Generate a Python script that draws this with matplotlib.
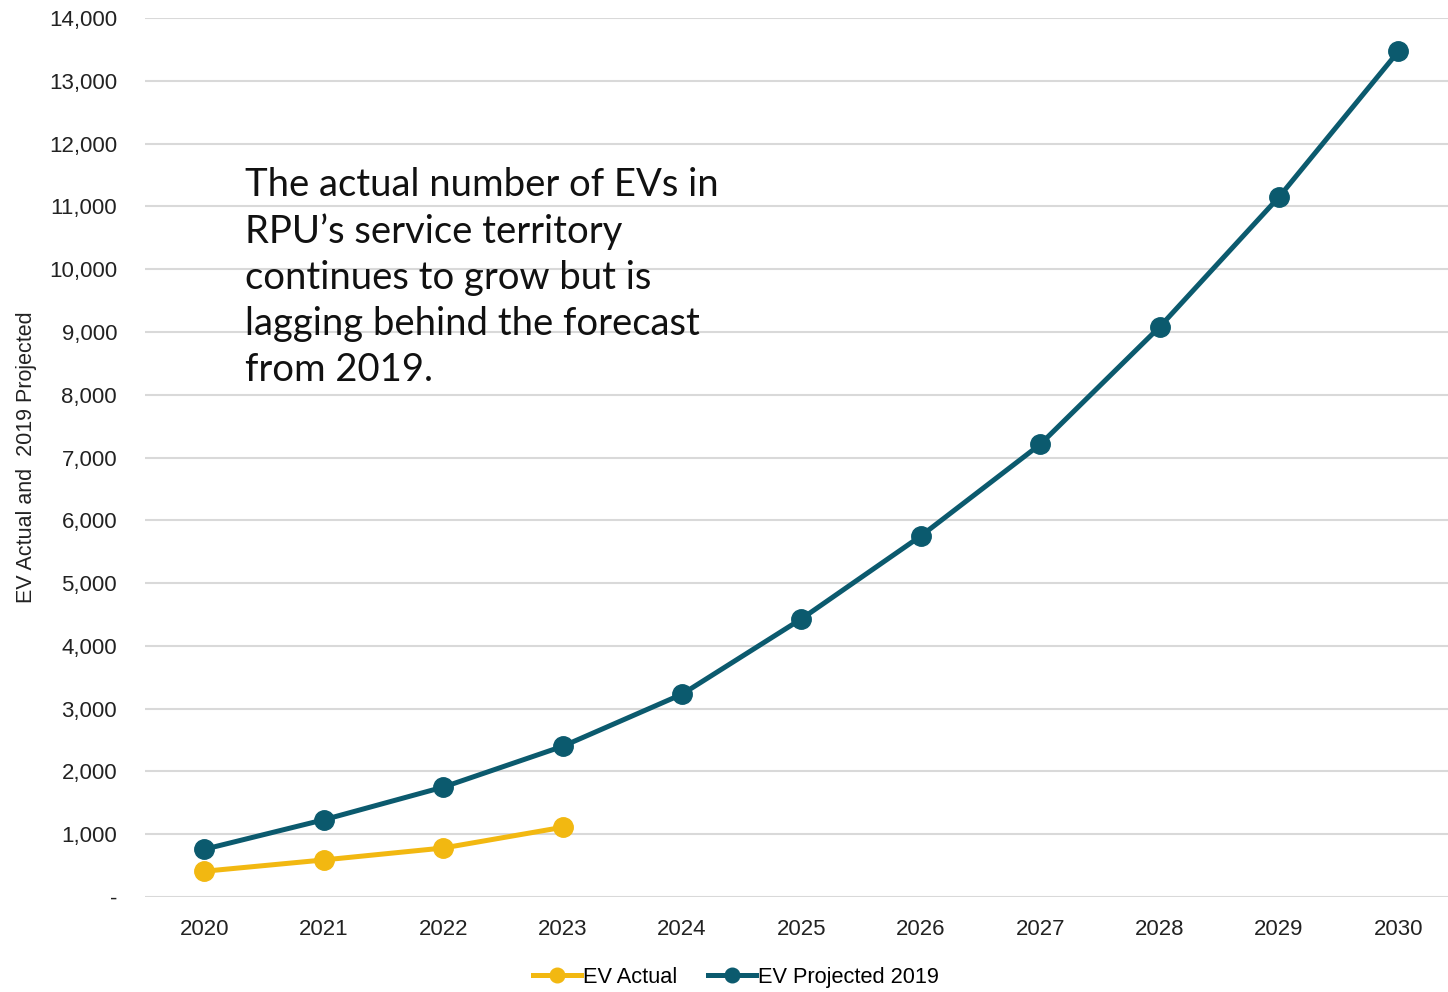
import matplotlib.pyplot as plt
from matplotlib.ticker import FuncFormatter

# Data
years = [2020, 2021, 2022, 2023, 2024, 2025, 2026, 2027, 2028, 2029, 2030]
actual_years = [2020, 2021, 2022, 2023]
ev_actual = [410, 590, 780, 1110]
ev_projected = [760, 1230, 1750, 2400, 3230, 4430, 5750, 7210, 9080, 11150, 13470]
y_ticks = list(range(0, 15000, 1000))

plt.rcParams['font.family'] = ['Liberation Sans', 'DejaVu Sans']

fig = plt.figure(figsize=(14.48, 9.92), dpi=100)
ax = fig.add_axes([0.1, 0.0958, 0.907, 0.886])

yellow = '#F2B811'
teal = '#0B5A6E'

ax.plot(actual_years, ev_actual, color=yellow, lw=3.6, marker='o', ms=14,
        label='EV Actual', zorder=3)
ax.plot(years, ev_projected, color=teal, lw=3.6, marker='o', ms=14,
        label='EV Projected 2019', zorder=3)

ax.set_xlim(2019.5, 2030.5)
ax.set_ylim(0, 14000)
ax.set_xticks(years)
ax.set_yticks(y_ticks)
ax.yaxis.set_major_formatter(FuncFormatter(lambda v, p: '-' if v == 0 else f'{int(v):,}'))
ax.grid(axis='y', color='#D9D9D9', lw=1.5)
ax.set_axisbelow(True)
for s in ax.spines.values():
    s.set_visible(False)
ax.tick_params(length=0, labelsize=16, colors='#222222')
ax.tick_params(axis='x', pad=16)
ax.tick_params(axis='y', pad=20)
ax.set_ylabel('EV Actual and  2019 Projected', fontsize=15.5, color='#222222')
ax.yaxis.set_label_coords(-0.082, 0.5)

ax.text(2020.34, 9870,
        'The actual number of EVs in\nRPU\u2019s service territory\ncontinues to grow but is\nlagging behind the forecast\nfrom 2019.',
        fontsize=27.5, family=['Lato', 'DejaVu Sans'], va='center', ha='left',
        linespacing=1.34, color='#111111')

ax.legend(loc='upper center', bbox_to_anchor=(0.45, -0.057), ncol=2, frameon=False,
          fontsize=15.7, handlelength=2.2, handletextpad=0.1, columnspacing=1.4,
          markerscale=0.75)

fig.savefig('out.png', dpi=100)
